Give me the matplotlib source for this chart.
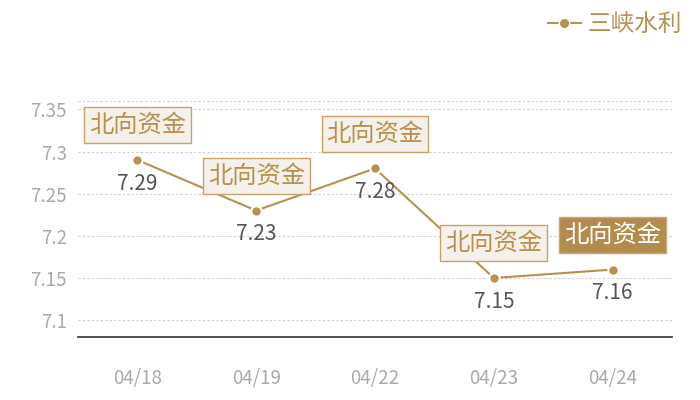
import matplotlib.pyplot as plt
from matplotlib.lines import Line2D

plt.rcParams['font.family'] = ['Noto Sans CJK SC', 'DejaVu Sans']

dates = ['04/18', '04/19', '04/22', '04/23', '04/24']
prices = [7.29, 7.23, 7.28, 7.15, 7.16]
tags = ['北向资金', '北向资金', '北向资金', '北向资金', '北向资金']
highlight = [False, False, False, False, True]
yticks = [7.1, 7.15, 7.2, 7.25, 7.3, 7.35]
ytick_labels = ['7.1', '7.15', '7.2', '7.25', '7.3', '7.35']
series_name = '三峡水利'

gold = '#b8914f'

fig = plt.figure(figsize=(7, 4), dpi=100)
ax = fig.add_axes([78 / 700, 1 - 337 / 400, 594 / 700, 236 / 400])

x = range(len(dates))
ax.plot(x, prices, color=gold, lw=1.5, marker='o', ms=7.5,
        mfc=gold, mec='white', mew=1.5, zorder=3)

ax.set_xlim(-0.5, len(dates) - 0.5)
ax.set_ylim(7.08, 7.36)
ax.set_xticks(list(x))
ax.set_xticklabels(dates)
ax.set_yticks(yticks)
ax.set_yticklabels(ytick_labels)
ax.tick_params(axis='both', length=0, labelsize=13.5, colors='#aaaaaa')
ax.tick_params(axis='x', pad=22)
ax.tick_params(axis='y', pad=8)

for yv in yticks + [7.36]:
    ax.axhline(yv, color='#cccccc', lw=0.8, ls=(0, (2, 2)), zorder=1)

for s in ['top', 'right', 'left']:
    ax.spines[s].set_visible(False)
ax.spines['bottom'].set_color('#333333')
ax.spines['bottom'].set_linewidth(1.2)

for i, (p, t, h) in enumerate(zip(prices, tags, highlight)):
    ax.annotate(f'{p:.2f}', (i, p), xytext=(0, -17), textcoords='offset points',
                ha='center', va='center', fontsize=15, color='#555555')
    if h:
        box = dict(boxstyle='square,pad=0.2', fc='#b38b4d', ec='#c9a877', lw=1)
        tc = 'white'
    else:
        box = dict(boxstyle='square,pad=0.2', fc='#f4f0ea', ec='#c9a26a', lw=1)
        tc = gold
    ax.annotate(t, (i, p), xytext=(0, 25), textcoords='offset points',
                ha='center', va='center', fontsize=17.5, color=tc, bbox=box, zorder=4)

handle = Line2D([], [], color=gold, lw=1.5, marker='o', ms=7.5, mfc=gold, mec='white', mew=1)
fig.legend([handle], [series_name], loc='upper right', bbox_to_anchor=(1.005, 1.02),
           frameon=False, fontsize=17, labelcolor=gold, handlelength=1.4,
           handletextpad=0.3)

fig.savefig('out.png', dpi=100)
